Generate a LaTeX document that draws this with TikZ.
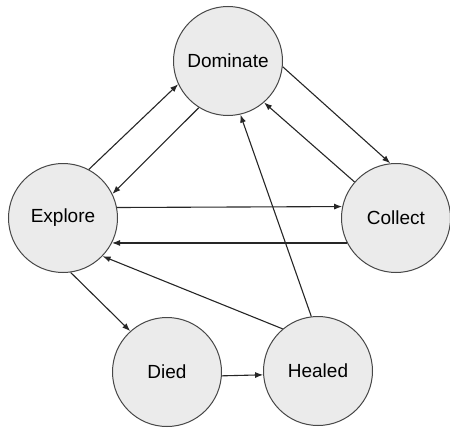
\documentclass[tikz,border=0pt]{standalone}
\usepackage{fontspec}
\setmainfont{Liberation Sans}
\usetikzlibrary{arrows.meta}
\begin{document}
\begin{tikzpicture}[x=1pt,y=-1pt,
  state/.style={circle, draw=black!72, fill=black!8, line width=1pt,
    minimum size=109pt, inner sep=0pt, font=\fontsize{19}{22}\selectfont},
  link/.style={draw=black!85, line width=1.1pt,
    -{Latex[length=8pt,width=6pt]}}]
\useasboundingbox (0,0) rectangle (450,428);

% states
\node[state] (dom) at (228,61)  {Dominate};
\node[state] (exp) at (63,218)  {Explore};
\node[state] (col) at (396,218) {Collect};
\node[state] (die) at (167,372) {Died};
\node[state] (hea) at (318,371) {Healed};

% transitions
\draw[link] (exp.62)  -- (dom.205);
\draw[link] (dom.238) -- (exp.26);
\draw[link] (dom.354) -- (col.96);
\draw[link] (col.139) -- (dom.311);
\draw[link] (exp.11.5) -- (col.168.5);
\draw[link] (col.207) -- (exp.-27);
\draw[link] (hea.130) -- (exp.-44);
\draw[link] (hea.97)  -- (dom.283);
\draw[link] (exp.-82) -- (die.132);
\draw[link] (die.-4)  -- (hea.184);
\end{tikzpicture}
\end{document}
